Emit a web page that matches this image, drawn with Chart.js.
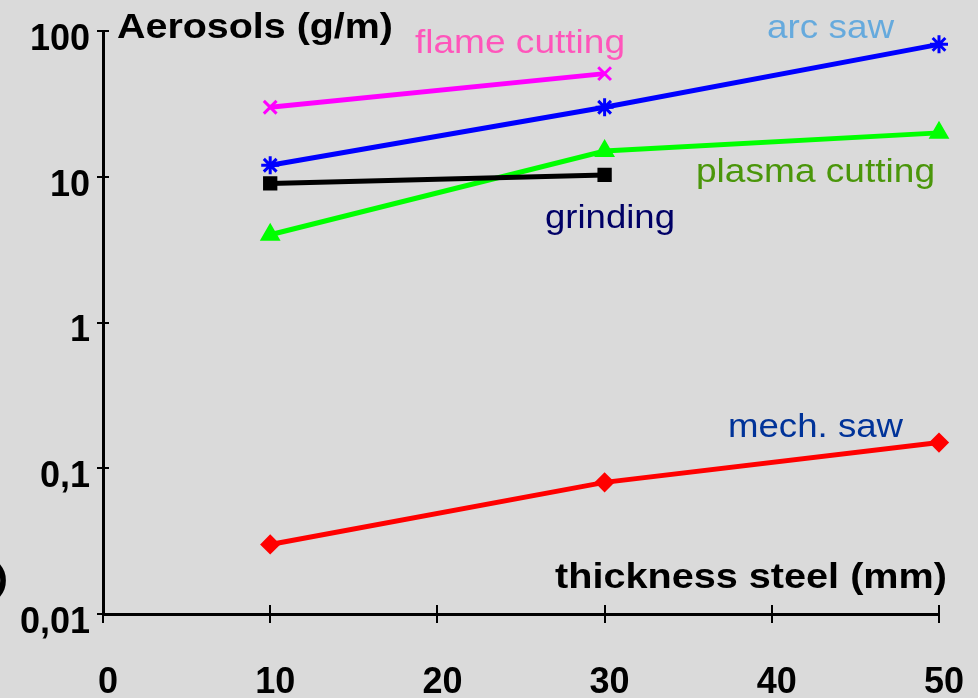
<!DOCTYPE html>
<html>
<head>
<meta charset="utf-8">
<script src="https://cdn.jsdelivr.net/npm/chart.js@4/dist/chart.umd.min.js"></script>
<style>
  html, body { margin: 0; padding: 0; background: #dadada; }
  #wrap { width: 978px; height: 698px; }
</style>
</head>
<body>
<div id="wrap"><canvas id="aerosolChart" width="978" height="698"></canvas></div>
<script>
// ---- data ----
const thickness = [10, 30, 50];
const flameCutting = [30, 51];
const arcSaw = [12, 30, 81];
const grinding = [9, 10.3];
const plasmaCutting = [4, 15, 20];
const mechSaw = [0.03, 0.08, 0.15];
const yTicks = [0.01, 0.1, 1, 10, 100];
const xTicks = [0, 10, 20, 30, 40, 50];

const toPoints = (vals) => vals.map((v, i) => ({ x: thickness[i], y: v }));

// labels drawn on the canvas: [text, left, baseline, width, bold, color]
const notes = [
    ['Aerosols (g/m)', 117, 38, 276, true, '#000000'],
    ['flame cutting', 415, 53, 210, false, '#ff55bb'],
    ['arc saw', 767, 38, 127, false, '#66aadd'],
    ['plasma cutting', 696, 182, 239, false, '#4a960a'],
    ['grinding', 545, 228, 130, false, '#000066'],
    ['mech. saw', 728, 437, 175, false, '#003399'],
    ['thickness steel (mm)', 555, 588, 392, true, '#000000'],
    [')', -6, 590, 14, true, '#000000']
];

const annotate = {
    id: 'annotate',
    afterDraw(chart) {
        const ctx = chart.ctx;
        const xs = chart.scales.x, ys = chart.scales.y;
        ctx.save();
        // ticks crossing the axes
        ctx.strokeStyle = '#000';
        ctx.lineWidth = 2;
        ctx.beginPath();
        xTicks.forEach(v => {
            const px = Math.round(xs.getPixelForValue(v));
            ctx.moveTo(px, ys.bottom - 9);
            ctx.lineTo(px, ys.bottom + 9);
        });
        yTicks.forEach(v => {
            const py = Math.round(ys.getPixelForValue(v));
            ctx.moveTo(xs.left - 6, py);
            ctx.lineTo(xs.left + 6, py);
        });
        ctx.stroke();

        ctx.textBaseline = 'alphabetic';
        ctx.textAlign = 'left';
        notes.forEach(([text, left, base, width, bold, color]) => {
            ctx.font = (bold ? 'bold 35px' : '34px') + ' "Liberation Sans", Arial, sans-serif';
            const w = ctx.measureText(text).width;
            ctx.save();
            ctx.translate(left, base);
            ctx.scale(width / w, 1);
            ctx.fillStyle = color;
            ctx.fillText(text, 0, 0);
            ctx.restore();
        });
        ctx.restore();
    }
};

function series(label, vals, color, style, radius) {
    return {
        label,
        data: toPoints(vals),
        borderColor: color,
        backgroundColor: color,
        borderWidth: 5,
        pointStyle: style,
        pointRadius: radius,
        pointBorderWidth: 3,
        pointBorderColor: color,
        pointBackgroundColor: color,
        tension: 0
    };
}

new Chart(document.getElementById('aerosolChart').getContext('2d'), {
    type: 'line',
    data: {
        datasets: [
            series('flame cutting', flameCutting, '#ff00ff', 'crossRot', 9),
            series('arc saw', arcSaw, '#0000ff', 'star', 9),
            series('grinding', grinding, '#000000', 'rect', 8),
            series('plasma cutting', plasmaCutting, '#00ff00', 'triangle', 9),
            series('mech. saw', mechSaw, '#ff0000', 'rectRot', 8)
        ]
    },
    options: {
        responsive: false,
        animation: false,
        clip: false,
        layout: { padding: { left: 0, right: 39, top: 31, bottom: 0 } },
        plugins: {
            legend: { display: false },
            tooltip: { enabled: false }
        },
        scales: {
            x: {
                type: 'linear',
                min: 0,
                max: 50,
                afterBuildTicks: (s) => { s.ticks = xTicks.map(v => ({ value: v })); },
                afterFit: (s) => { s.height = 84; s.paddingLeft = 0; s.paddingRight = 0; },
                grid: { display: false, drawTicks: false },
                border: { display: true, color: '#000', width: 3 },
                ticks: {
                    color: '#000',
                    padding: 47,
                    labelOffset: 5,
                    maxRotation: 0,
                    font: { family: '"Liberation Sans", Arial', size: 36, weight: 'bold' },
                    callback: (v) => String(v)
                }
            },
            y: {
                type: 'logarithmic',
                min: 0.01,
                max: 100,
                afterBuildTicks: (s) => { s.ticks = yTicks.map(v => ({ value: v })); },
                afterFit: (s) => { s.width = 103; s.paddingTop = 0; s.paddingBottom = 0; },
                grid: { display: false, drawTicks: false },
                border: { display: true, color: '#000', width: 3 },
                ticks: {
                    color: '#000',
                    padding: 13,
                    labelOffset: 9,
                    font: { family: '"Liberation Sans", Arial', size: 36, weight: 'bold' },
                    callback: (v) => String(v).replace('.', ',')
                }
            }
        }
    },
    plugins: [annotate]
});
</script>
</body>
</html>
